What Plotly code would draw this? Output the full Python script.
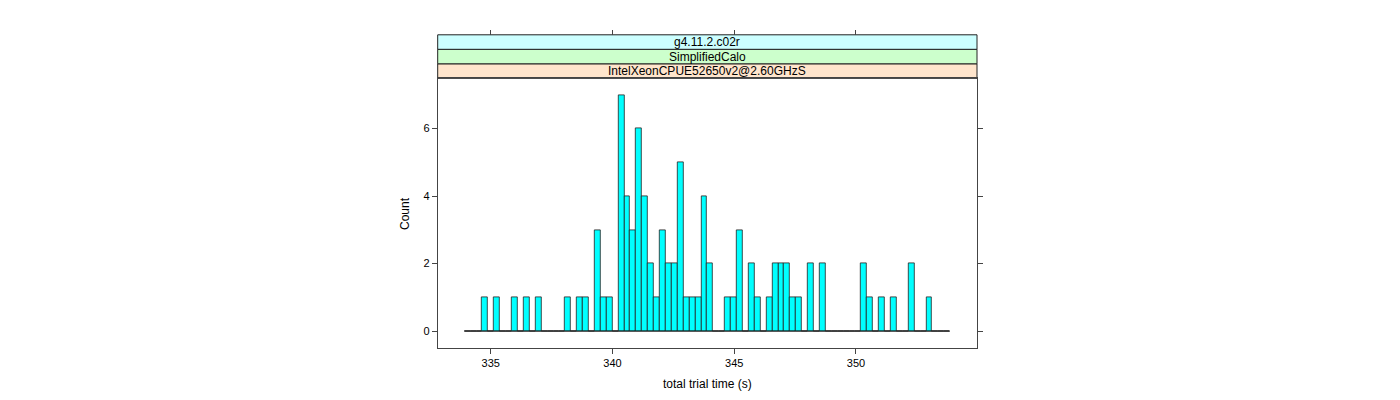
import plotly.graph_objects as go

# ---- data ----
bin_start = 333.916
bin_width = 0.2432
counts = [
    0, 0, 0, 1, 0, 1, 0, 0, 1, 0,
    1, 0, 1, 0, 0, 0, 0, 1, 0, 1,
    1, 0, 3, 1, 1, 0, 7, 4, 3, 6,
    4, 2, 1, 3, 2, 2, 5, 1, 1, 1,
    4, 2, 0, 0, 1, 1, 3, 0, 2, 1,
    0, 1, 2, 2, 2, 1, 1, 0, 2, 0,
    2, 0, 0, 0, 0, 0, 0, 2, 1, 0,
    1, 0, 1, 0, 0, 2, 0, 0, 1, 0,
    0, 0,
]
x_ticks = [335, 340, 345, 350]
y_ticks = [0, 2, 4, 6]
strip_labels = ["IntelXeonCPUE52650v2@2.60GHzS", "SimplifiedCalo", "g4.11.2.c02r"]
strip_colors = ["#ffe5cc", "#ccffcc", "#ccffff"]
x_title = "total trial time (s)"
y_title = "Count"

# ---- layout geometry (page pixels; page body has an 8px margin) ----
PAGE_OFF = 8
W, H = 1400 - 2 * PAGE_OFF, 400 - 2 * PAGE_OFF
px_left, px_right = 437.7, 977.0
px_top, px_bottom = 78.3, 347.7
strip_h = 14.5
x_range = [332.82, 354.97]
y_range = [-0.49, 7.49]

def fx(p):
    return (p - PAGE_OFF) / W

def fy(p):
    return 1 - (p - PAGE_OFF) / H

centers = [bin_start + bin_width * (i + 0.5) for i in range(len(counts))]
edges = [bin_start, bin_start + bin_width * len(counts)]

FONT = "Liberation Sans, Arial, sans-serif"
AXC = "#444444"

fig = go.Figure()
# baseline of zero-height bins
fig.add_trace(go.Scatter(x=edges, y=[0, 0], mode="lines",
                         line=dict(color="black", width=0.8),
                         hoverinfo="skip", showlegend=False))
fig.add_trace(go.Bar(x=centers, y=counts, width=bin_width,
                     marker=dict(color="#00FFFF", line=dict(color="#222222", width=0.8)),
                     showlegend=False))

shapes = []
annotations = []
for k, (lab, col) in enumerate(zip(strip_labels, strip_colors)):
    y1 = px_top - k * strip_h
    y0 = y1 - strip_h
    shapes.append(dict(type="rect", xref="paper", yref="paper",
                       x0=fx(px_left), x1=fx(px_right), y0=fy(y1), y1=fy(y0),
                       fillcolor=col, line=dict(color="#222222", width=1), layer="below"))
    annotations.append(dict(text=lab, xref="paper", yref="paper",
                            x=(fx(px_left) + fx(px_right)) / 2, y=fy((y0 + y1) / 2),
                            showarrow=False, xanchor="center", yanchor="middle",
                            font=dict(family=FONT, size=12, color="black")))

annotations.append(dict(text=x_title, xref="paper", yref="paper",
                        x=(fx(px_left) + fx(px_right)) / 2, y=fy(384),
                        showarrow=False, xanchor="center", yanchor="middle",
                        font=dict(family=FONT, size=12, color="black")))
annotations.append(dict(text=y_title, xref="paper", yref="paper",
                        x=fx(405), y=fy((px_top + px_bottom) / 2), textangle=-90,
                        showarrow=False, xanchor="center", yanchor="middle",
                        font=dict(family=FONT, size=12, color="black")))

strip_top = px_top - len(strip_labels) * strip_h

fig.update_layout(
    width=W, height=H,
    margin=dict(l=0, r=0, t=0, b=0),
    paper_bgcolor="white", plot_bgcolor="white",
    bargap=0,
    shapes=shapes, annotations=annotations,
    xaxis=dict(domain=[fx(px_left), fx(px_right)], range=x_range,
               tickvals=x_ticks, ticktext=[str(v) for v in x_ticks],
               ticks="outside", ticklen=5, tickcolor=AXC, tickwidth=1,
               showline=True, linecolor=AXC, linewidth=1, mirror=True,
               showgrid=False, zeroline=False,
               tickfont=dict(family=FONT, size=11, color="black")),
    xaxis2=dict(overlaying="x", anchor="free", position=fy(strip_top), side="top",
                range=x_range, tickvals=x_ticks, showticklabels=False,
                ticks="outside", ticklen=5, tickcolor=AXC, tickwidth=1,
                showline=False, showgrid=False, zeroline=False),
    yaxis=dict(domain=[fy(px_bottom), fy(px_top)], range=y_range,
               tickvals=y_ticks, ticktext=[str(v) for v in y_ticks],
               ticks="outside", ticklen=5, tickcolor=AXC, tickwidth=1,
               showline=True, linecolor=AXC, linewidth=1, mirror="ticks",
               showgrid=False, zeroline=False,
               tickfont=dict(family=FONT, size=11, color="black")),
)
# invisible trace so the top tick axis is drawn
fig.add_trace(go.Scatter(x=[x_ticks[0]], y=[0], xaxis="x2", mode="markers",
                         marker=dict(opacity=0), hoverinfo="skip", showlegend=False))

fig.write_html("out.html")
